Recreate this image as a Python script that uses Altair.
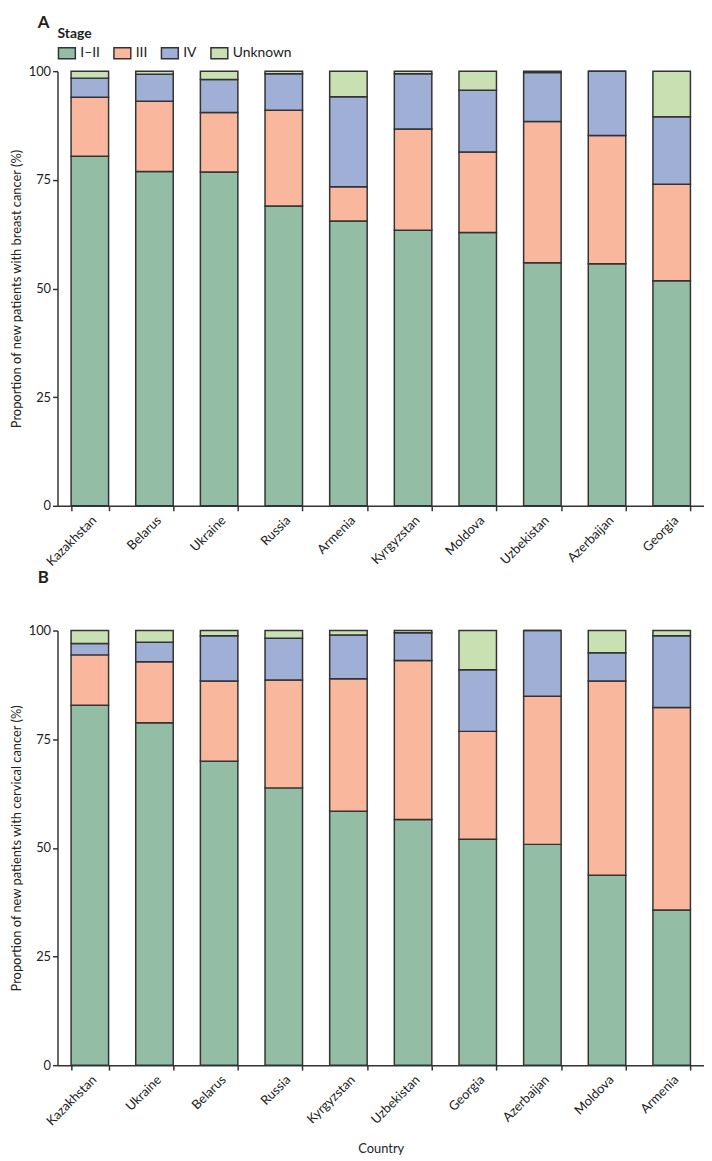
import altair as alt
import pandas as pd

stages = ["I–II", "III", "IV", "Unknown"]
stage_colors = ["#93bea5", "#f9b89d", "#a0afd6", "#c9e0b2"]

breast_countries = ["Kazakhstan", "Belarus", "Ukraine", "Russia", "Armenia",
                    "Kyrgyzstan", "Moldova", "Uzbekistan", "Azerbaijan", "Georgia"]
breast_i_ii = [80.4, 76.9, 76.8, 69.0, 65.5, 63.4, 62.9, 55.9, 55.7, 51.8]
breast_iii = [13.6, 16.2, 13.7, 22.0, 7.9, 23.3, 18.5, 32.5, 29.5, 22.2]
breast_iv = [4.4, 6.2, 7.6, 8.4, 20.7, 12.7, 14.2, 11.3, 14.8, 15.5]
breast_unknown = [1.6, 0.7, 1.9, 0.6, 5.9, 0.6, 4.4, 0.3, 0.0, 10.5]

cervical_countries = ["Kazakhstan", "Ukraine", "Belarus", "Russia", "Kyrgyzstan",
                      "Uzbekistan", "Georgia", "Azerbaijan", "Moldova", "Armenia"]
cervical_i_ii = [82.8, 78.8, 69.9, 63.8, 58.4, 56.5, 52.0, 50.8, 43.7, 35.7]
cervical_iii = [11.6, 14.0, 18.5, 24.8, 30.5, 36.6, 24.8, 34.1, 44.7, 46.6]
cervical_iv = [2.6, 4.5, 10.4, 9.6, 10.1, 6.4, 14.2, 15.1, 6.5, 16.5]
cervical_unknown = [3.0, 2.7, 1.2, 1.8, 1.0, 0.5, 9.0, 0.0, 5.1, 1.2]

y_ticks = [0, 25, 50, 75, 100]

FONT = "Lato"


def long_table(countries, cols):
    rows = []
    for i, c in enumerate(countries):
        for k, s in enumerate(stages):
            rows.append({"country": c, "stage": s, "idx": k, "value": cols[k][i]})
    return pd.DataFrame(rows)


def panel(df, countries, ytitle, letter, show_legend, xtitle, title_offset):
    if show_legend:
        color = alt.Color(
            "stage:N",
            scale=alt.Scale(domain=stages, range=stage_colors),
            legend=alt.Legend(
                title="Stage", orient="none", legendX=0, legendY=-44,
                direction="horizontal", columns=4,
                symbolType="M-1,-0.65L1,-0.65L1,0.65L-1,0.65Z",
                symbolSize=290, symbolStrokeColor="#333", symbolStrokeWidth=1.5,
                symbolFillColor="white",
                labelFont=FONT, labelFontSize=14, labelColor="#222",
                titleFont=FONT, titleFontSize=14, titleFontWeight="bold", titleColor="#222",
                labelOffset=4, columnPadding=10, titlePadding=2,
            ),
        )
    else:
        color = alt.Color("stage:N", scale=alt.Scale(domain=stages, range=stage_colors), legend=None)

    xaxis_kwargs = dict(labelAngle=-45, tickBand="extent", labelPadding=3, titlePadding=15)
    xaxis_kwargs["title"] = xtitle if xtitle else None

    return alt.Chart(
        df,
        title=alt.TitleParams(letter, anchor="start", frame="group", dx=-20, offset=title_offset,
                              font=FONT, fontSize=17, fontWeight="bold", color="#222"),
    ).mark_bar(stroke="#333", strokeWidth=1.5, strokeJoin="miter").encode(
        x=alt.X("country:N", sort=countries,
                scale=alt.Scale(paddingInner=0.42, paddingOuter=0.21),
                axis=alt.Axis(**xaxis_kwargs)),
        y=alt.Y("value:Q", stack="zero",
                scale=alt.Scale(domain=[0, 100], nice=False),
                axis=alt.Axis(values=y_ticks, title=ytitle, titlePadding=5)),
        color=color,
        order=alt.Order("idx:Q", sort="ascending"),
    ).properties(width=653, height=439)


df_a = long_table(breast_countries, [breast_i_ii, breast_iii, breast_iv, breast_unknown])
df_b = long_table(cervical_countries, [cervical_i_ii, cervical_iii, cervical_iv, cervical_unknown])

pa = panel(df_a, breast_countries, "Proportion of new patients with breast cancer (%)", "A", True, None, -4)
pb = panel(df_b, cervical_countries, "Proportion of new patients with cervical cancer (%)", "B", False, "Country", 38)

chart = alt.vconcat(pa, pb, spacing=0).resolve_scale(
    x="independent", color="independent"
).configure(
    padding={"left": 2, "top": 0, "right": 0, "bottom": 0},
).configure_view(
    stroke=None
).configure_axis(
    grid=False,
    domainColor="#333", domainWidth=1.5,
    tickColor="#333", tickWidth=1.5, tickSize=5,
    labelFont=FONT, labelFontSize=13, labelColor="#222",
    titleFont=FONT, titleFontSize=13, titleFontWeight="normal", titleColor="#222",
    labelPadding=2,
)

chart.save("out.html", embed_options={"renderer": "svg", "actions": False})
